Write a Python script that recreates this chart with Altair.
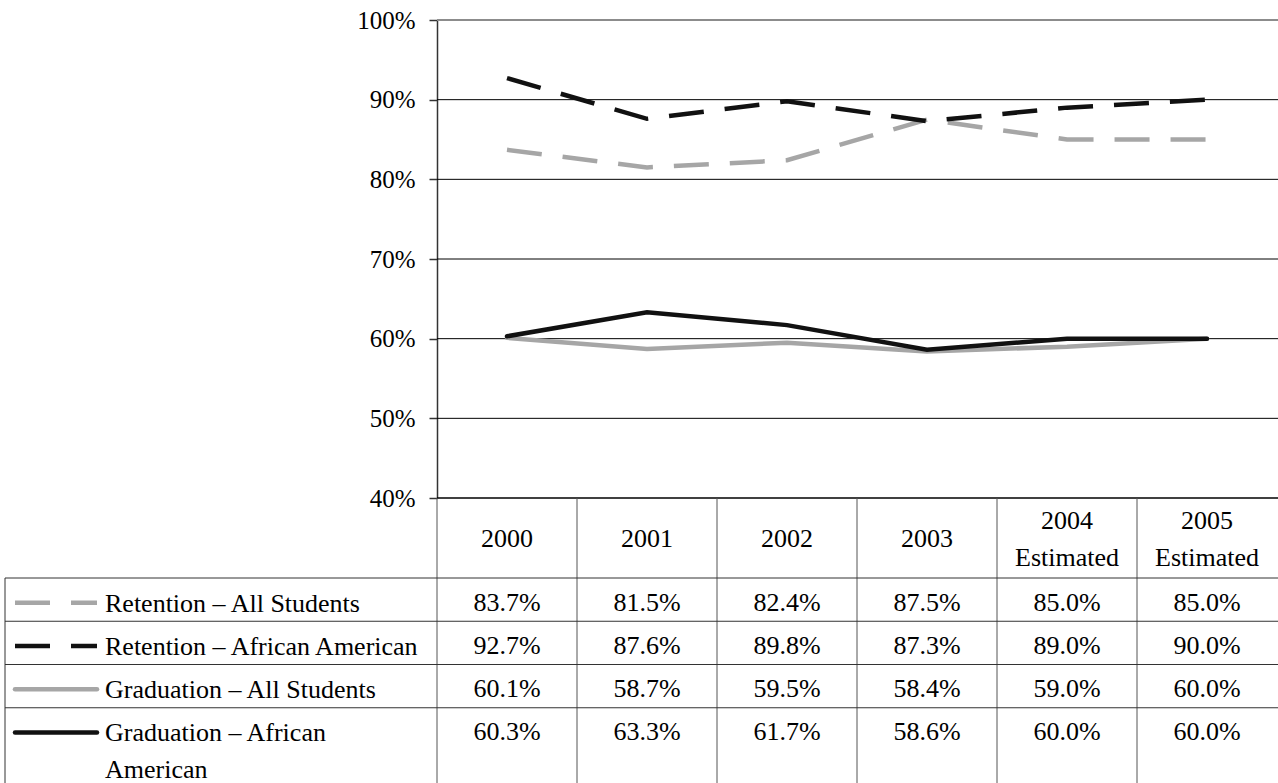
import altair as alt
import pandas as pd

# ---------------- data ----------------
years = ["2000", "2001", "2002", "2003", "2004", "2005"]
year_headers = [["2000"], ["2001"], ["2002"], ["2003"],
                ["2004", "Estimated"], ["2005", "Estimated"]]

series = ["Retention – All Students", "Retention – African American",
          "Graduation – All Students", "Graduation – African American"]
series_headers = [["Retention – All Students"], ["Retention – African American"],
                  ["Graduation – All Students"], ["Graduation – African", "American"]]

retention_all = [83.7, 81.5, 82.4, 87.5, 85.0, 85.0]
retention_aa = [92.7, 87.6, 89.8, 87.3, 89.0, 90.0]
graduation_all = [60.1, 58.7, 59.5, 58.4, 59.0, 60.0]
graduation_aa = [60.3, 63.3, 61.7, 58.6, 60.0, 60.0]

y_ticks = [40, 50, 60, 70, 80, 90, 100]
grid_values = [50, 60, 70, 80, 90]

# ---------------- styles ----------------
FONT = "Liberation Serif, Times New Roman, serif"
GREY = "#a6a6a6"
BLACK = "#111111"
DASH = [35, 21]
series_style = {
    series[0]: dict(color=GREY, strokeDash=DASH, strokeCap="butt"),
    series[1]: dict(color=BLACK, strokeDash=DASH, strokeCap="butt"),
    series[2]: dict(color=GREY, strokeCap="round"),
    series[3]: dict(color=BLACK, strokeCap="round"),
}

# ---------------- layout (pixels) ----------------
PAD_LEFT, PAD_TOP = 437, 20
PLOT_W = 841          # six table columns of 140 px
COL_RANGE = [0, 840]
PLOT_H = 478          # 40% .. 100%
TOTAL_H = 763
HEADER_MID = 519
HEADER_BOTTOM = 558
ROWS_BOTTOM = 731
LABEL_LEFT = -432
ROW_POS = 0.57
LINE_H = 37

values = [retention_all, retention_aa, graduation_all, graduation_aa]
df = pd.DataFrame(
    [{"series": s, "year": y, "value": v}
     for s, vals in zip(series, values) for y, v in zip(years, vals)]
)
df["label"] = df["value"].map(lambda v: f"{v:.1f}%")

df_years = pd.DataFrame({"year": years, "header": year_headers})
df_rows = pd.DataFrame({"series": series, "header": series_headers})

x_scale = alt.Scale(domain=years, range=COL_RANGE, paddingInner=0, paddingOuter=0)


def x_year(band_pos):
    return alt.X("year:N", scale=x_scale, axis=None, bandPosition=band_pos)


y_axis = alt.Axis(
    values=y_ticks, labelExpr="datum.value + '%'", grid=False, title=None,
    domainColor="#333333", domainWidth=1.5, tickColor="#333333", tickWidth=1.5,
    tickSize=8, labelFont=FONT, labelFontSize=25, labelColor="black",
    labelPadding=14,
)
y_pct = alt.Y("value:Q",
              scale=alt.Scale(domain=[40, 100], range=[PLOT_H, 0], nice=False, zero=False),
              axis=y_axis)


def y_row(band_pos):
    return alt.Y("series:N",
                 scale=alt.Scale(domain=series, range=[HEADER_BOTTOM, ROWS_BOTTOM],
                                 paddingInner=0, paddingOuter=0),
                 axis=None, bandPosition=band_pos)


# ---------------- line chart ----------------
grid = alt.Chart(pd.DataFrame({"value": grid_values})).mark_rule(
    color="black", strokeWidth=1).encode(y=y_pct)
top_line = alt.Chart(pd.DataFrame({"value": [100]})).mark_rule(
    color="#8c8c8c", strokeWidth=2).encode(y=y_pct)
base_line = alt.Chart(pd.DataFrame({"value": [40]})).mark_rule(
    color="black", strokeWidth=1.5).encode(y=y_pct)

lines = [
    alt.Chart(df[df["series"] == s]).mark_line(strokeWidth=4.5, **series_style[s])
    .encode(x=x_year(0.5), y=y_pct)
    for s in series
]
plot_layer = alt.layer(grid, top_line, base_line, *lines)

# ---------------- data table ----------------
col_lines = alt.Chart(df_years).mark_rule(color="#555555", strokeWidth=1).encode(
    x=x_year(0), y=alt.value(PLOT_H), y2=alt.value(TOTAL_H))
row_lines = alt.Chart(df_rows).mark_rule(color="#333333", strokeWidth=1).encode(
    y=y_row(0), x=alt.value(LABEL_LEFT), x2=alt.value(PLOT_W))
left_border = alt.Chart(df_rows.head(1)).mark_rule(color="#333333", strokeWidth=1).encode(
    x=alt.value(LABEL_LEFT), y=y_row(0), y2=alt.value(TOTAL_H))

text_style = dict(font=FONT, fontSize=26, color="black")

# column headers: one- and two-line headers, each block centred in the header row
header_one = alt.Chart(df_years).transform_filter("length(datum.header) == 1").mark_text(
    align="center", baseline="middle", lineHeight=LINE_H, **text_style).encode(
    x=x_year(0.5), y=alt.value(HEADER_MID), text="header")
header_two = alt.Chart(df_years).transform_filter("length(datum.header) == 2").mark_text(
    align="center", baseline="middle", lineHeight=LINE_H, dy=-LINE_H / 2, **text_style).encode(
    x=x_year(0.5), y=alt.value(HEADER_MID), text="header")

value_text = alt.Chart(df).mark_text(
    align="center", baseline="middle", **text_style).encode(
    x=x_year(0.5), y=y_row(ROW_POS), text="label:N")
label_text = alt.Chart(df_rows).mark_text(
    align="left", baseline="top", dy=-12, lineHeight=LINE_H, **text_style).encode(
    x=alt.value(-332), y=y_row(ROW_POS), text="header")

symbols = [
    alt.Chart(df_rows[df_rows["series"] == s]).mark_rule(strokeWidth=4.5, **series_style[s])
    .encode(x=alt.value(-422), x2=alt.value(-340), y=y_row(ROW_POS))
    for s in series
]

table_layer = alt.layer(col_lines, row_lines, left_border,
                        header_one, header_two, value_text, label_text, *symbols)

chart = (
    alt.layer(plot_layer, table_layer)
    .resolve_scale(y="independent")
    .properties(
        width=PLOT_W, height=TOTAL_H,
        padding={"left": PAD_LEFT, "top": PAD_TOP, "right": 0, "bottom": 0},
        autosize=alt.AutoSizeParams(type="none"),
        background="white",
    )
    .configure_view(stroke=None)
)

chart.save("out.html", embed_options={"renderer": "svg", "actions": False})
